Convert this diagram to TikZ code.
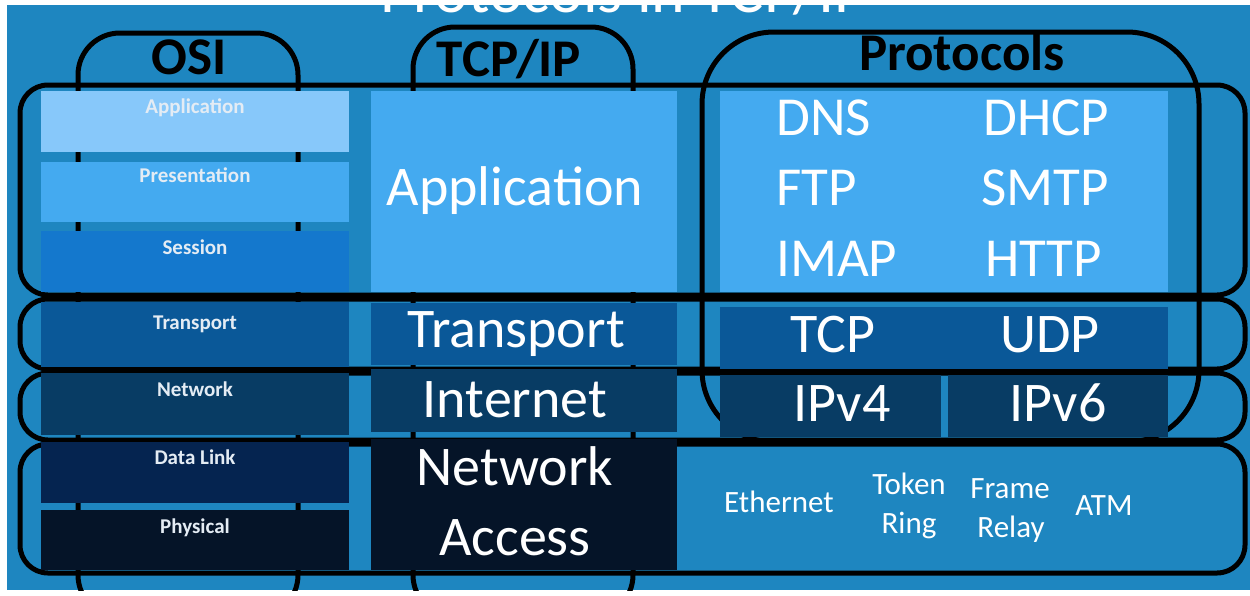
\documentclass[tikz,border=0pt]{standalone}
\usepackage{fontspec}
\setmainfont{Carlito}
\definecolor{slidebg}{HTML}{1E86C0}
\definecolor{cLight}{HTML}{87C8FA}
\definecolor{cMid}{HTML}{44AAF0}
\definecolor{cSess}{HTML}{1478CD}
\definecolor{cTrans}{HTML}{0A5898}
\definecolor{cNet}{HTML}{083C64}
\definecolor{cLink}{HTML}{052450}
\definecolor{cPhys}{HTML}{051428}
\definecolor{osiText}{HTML}{E4ECF4}
\newcommand\layerbox[6]{\node[lbox, fill=#2, minimum width={#5-#3}, minimum height={#6-#4}] (#1) at (#3,#4) {};}
\begin{document}
\begin{tikzpicture}[x=1pt,y=-1pt,
  outline/.style={draw=black, line width=5pt},
  lbox/.style={inner sep=0pt, outer sep=0pt, anchor=north west, draw=none},
  ositxt/.style={anchor=base, text=osiText, font=\bfseries\fontsize{21}{24}\selectfont, inner sep=0pt},
  bigtxt/.style={anchor=base, text=white, font=\fontsize{56}{60}\selectfont, inner sep=0pt},
  protxt/.style={anchor=base west, text=white, font=\fontsize{55}{60}\selectfont, inner sep=0pt},
  smalltxt/.style={anchor=base, text=white, font=\fontsize{31}{34}\selectfont, inner sep=0pt},
  headtxt/.style={anchor=base, text=black, font=\bfseries\fontsize{53}{56}\selectfont, inner sep=0pt}]
\useasboundingbox (0,0) rectangle (1250,595);
\fill[white] (0,0) rectangle (1250,595);
\begin{scope}
\clip (7,5) rectangle (1250,590);
\fill[slidebg] (7,5) rectangle (1250,590);
% partially visible title
\node[anchor=base, text=white, font=\fontsize{64}{70}\selectfont, inner sep=0pt] (title) at (624,12) {Protocols in TCP/IP};
% column outlines
\draw[outline, rounded corners=42pt] (78,33) rectangle (298,617);
\draw[outline, rounded corners=42pt] (413,27) rectangle (633,617);
\draw[outline, rounded corners=72pt] (702,32) rectangle (1199,442);
% layer band outlines
\draw[outline, rounded corners=28pt] (20,85) rectangle (1245,295);
\draw[outline, rounded corners=28pt] (20,299) rectangle (1245,369);
\draw[outline, rounded corners=28pt] (20,373) rectangle (1245,440);
\draw[outline, rounded corners=28pt] (20,444) rectangle (1245,573);
% OSI boxes
\layerbox{osiApp}{cLight}{41}{91}{349}{152}
\layerbox{osiPres}{cMid}{41}{162}{349}{222}
\layerbox{osiSess}{cSess}{41}{231}{349}{292}
\layerbox{osiTrans}{cTrans}{41}{302}{349}{367}
\layerbox{osiNet}{cNet}{41}{373}{349}{435}
\layerbox{osiLink}{cLink}{41}{442}{349}{503}
\layerbox{osiPhys}{cPhys}{41}{510}{349}{570}
% TCP/IP boxes
\layerbox{tcpApp}{cMid}{371}{91}{677}{292}
\layerbox{tcpTrans}{cTrans}{371}{303}{677}{365}
\layerbox{tcpInet}{cNet}{371}{369}{677}{432}
\layerbox{tcpAcc}{cPhys}{371}{439}{677}{570}
% protocol boxes
\layerbox{proApp}{cMid}{720}{91}{1168}{292}
\layerbox{proTrans}{cTrans}{720}{307}{1168}{369}
\layerbox{proV4}{cNet}{720}{375}{941}{437}
\layerbox{proV6}{cNet}{948}{375}{1168}{437}
\end{scope}
% headings
\node[headtxt] (hOSI) at (189,74) {OSI};
\node[headtxt] (hTCP) at (509,76) {TCP/IP};
\node[headtxt] (hPro) at (962,70) {Protocols};
% OSI labels
\node[ositxt] (tApp) at (195,113) {Application};
\node[ositxt] (tPres) at (195,182) {Presentation};
\node[ositxt] (tSess) at (195,254) {Session};
\node[ositxt] (tTrans) at (195,329) {Transport};
\node[ositxt] (tNet) at (195,396) {Network};
\node[ositxt] (tLink) at (195,464) {Data Link};
\node[ositxt] (tPhys) at (195,533) {Physical};
% TCP/IP labels
\node[bigtxt] (uApp) at (515,205) {Application};
\node[bigtxt] (uTrans) at (516,347) {Transport};
\node[bigtxt] (uInet) at (515,417) {Internet};
\node[bigtxt] (uNet) at (515,485) {Network};
\node[bigtxt] (uAcc) at (515,555) {Access};
% protocols
\node[protxt] (pDNS) at (776,135) {DNS};
\node[protxt] (pFTP) at (776,205) {FTP};
\node[protxt] (pIMAP) at (776,276) {IMAP};
\node[protxt] (pDHCP) at (983,135) {DHCP};
\node[protxt] (pSMTP) at (981,205) {SMTP};
\node[protxt] (pHTTP) at (985,276) {HTTP};
\node[bigtxt] (pTCP) at (833,352) {TCP};
\node[bigtxt] (pUDP) at (1050,352) {UDP};
\node[bigtxt] (pV4) at (842,421) {IPv4};
\node[bigtxt] (pV6) at (1058,421) {IPv6};
% network access technologies
\node[smalltxt] (nEth) at (779,512) {Ethernet};
\node[smalltxt] (nTok) at (909,494) {Token};
\node[smalltxt] (nRing) at (909,533) {Ring};
\node[smalltxt] (nFrame) at (1010,498) {Frame};
\node[smalltxt] (nRelay) at (1011,537) {Relay};
\node[smalltxt] (nATM) at (1104,515) {ATM};
\end{tikzpicture}
\end{document}
